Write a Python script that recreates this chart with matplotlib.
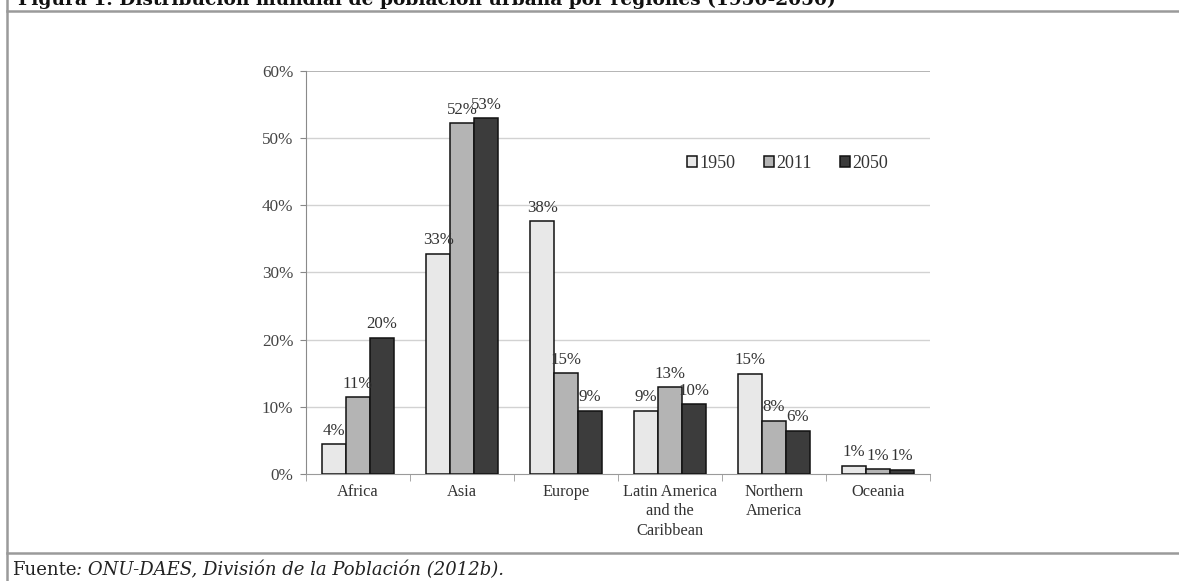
import numpy as np
import matplotlib
matplotlib.use("Agg")
import matplotlib.pyplot as plt
from matplotlib.lines import Line2D

regions = ["Africa", "Asia", "Europe", "Latin America\nand the\nCaribbean",
           "Northern\nAmerica", "Oceania"]
years = ["1950", "2011", "2050"]
share_1950 = [4.4, 32.8, 37.6, 9.4, 14.9, 1.2]
share_2011 = [11.4, 52.2, 15.0, 12.9, 7.9, 0.7]
share_2050 = [20.3, 52.9, 9.4, 10.4, 6.4, 0.6]
y_ticks = [0, 10, 20, 30, 40, 50, 60]

series = [share_1950, share_2011, share_2050]
fills = ["#e8e8e8", "#b4b4b4", "#3c3c3c"]

W, H = 1179, 581
fig = plt.figure(figsize=(W / 100, H / 100), dpi=100)

serif = ["Liberation Serif", "DejaVu Serif"]

# frame lines around the figure block
frame = "#9a9a9a"
fig.add_artist(Line2D([7 / W, 1], [1 - 11 / H, 1 - 11 / H], color=frame, lw=1.8,
                      transform=fig.transFigure))
fig.add_artist(Line2D([7 / W, 1], [1 - 552.5 / H, 1 - 552.5 / H], color=frame, lw=1.8,
                      transform=fig.transFigure))
fig.add_artist(Line2D([7 / W, 7 / W], [0, 1], color=frame, lw=1.8,
                      transform=fig.transFigure))

# caption (running off the top edge) and source line
fig.text(18 / W, 1 - 5 / H,
         "Figura 1. Distribución mundial de población urbana por regiones (1950-2050)",
         family=["DejaVu Serif"], weight="bold", fontsize=13.4, va="baseline",
         ha="left", color="#111111")
src_a = fig.text(12 / W, 1 - 575 / H, "Fuente", family=["DejaVu Serif"], fontsize=13.0,
                 va="baseline", ha="left", color="#222222")
renderer = fig.canvas.get_renderer()
ext = src_a.get_window_extent(renderer)
fig.text(ext.x1 / W, 1 - 575 / H, ": ONU-DAES, División de la Población (2012b).",
         family=["DejaVu Serif"], style="italic", fontsize=13.0,
         va="baseline", ha="left", color="#222222")

ax = fig.add_axes([306 / W, 1 - 474 / H, 624 / W, (474 - 70.7) / H])

x = np.arange(len(regions))
bw = 0.23
for i, (vals, col, yr) in enumerate(zip(series, fills, years)):
    pos = x + (i - 1) * bw
    bars = ax.bar(pos, vals, width=bw, color=col, edgecolor="#111111",
                  linewidth=1.1, label=yr, zorder=3)
    for b, v in zip(bars, vals):
        ax.annotate(f"{v:.0f}%", (b.get_x() + b.get_width() / 2, v),
                    xytext=(0, 4), textcoords="offset points",
                    ha="center", va="bottom", family=serif, fontsize=12.2,
                    color="#333333", zorder=4)

ax.set_xlim(-0.5, len(regions) - 0.5)
ax.set_ylim(0, 60)
ax.set_yticks(y_ticks)
ax.set_yticklabels([f"{t}%" for t in y_ticks], family=serif, fontsize=12.3,
                   color="#444444")
ax.set_xticks(x)
ax.set_xticklabels(regions, family=serif, fontsize=11.8, color="#333333",
                   linespacing=1.3)
ax.tick_params(axis="x", length=0, pad=7)
ax.tick_params(axis="y", length=4, color="#888888", pad=5)

# category separators on the baseline
ax.set_xticks(np.arange(len(regions) + 1) - 0.5, minor=True)
ax.tick_params(axis="x", which="minor", length=5, color="#999999", direction="out")

for t in y_ticks[1:-1]:
    ax.axhline(t, color="#d2d2d2", lw=1.0, zorder=1)
ax.axhline(60, color="#a8a8a8", lw=1.2, zorder=1)

for side in ["top", "right"]:
    ax.spines[side].set_visible(False)
ax.spines["left"].set_color("#8a8a8a")
ax.spines["bottom"].set_color("#9a9a9a")

leg = ax.legend(loc="center", bbox_to_anchor=(0.772, 0.771), ncol=3, frameon=False,
                handlelength=0.55, handleheight=0.55, handletextpad=0.15,
                columnspacing=1.55, prop={"family": serif, "size": 13})
for txt in leg.get_texts():
    txt.set_color("#333333")

fig.savefig("out.png", dpi=100)
